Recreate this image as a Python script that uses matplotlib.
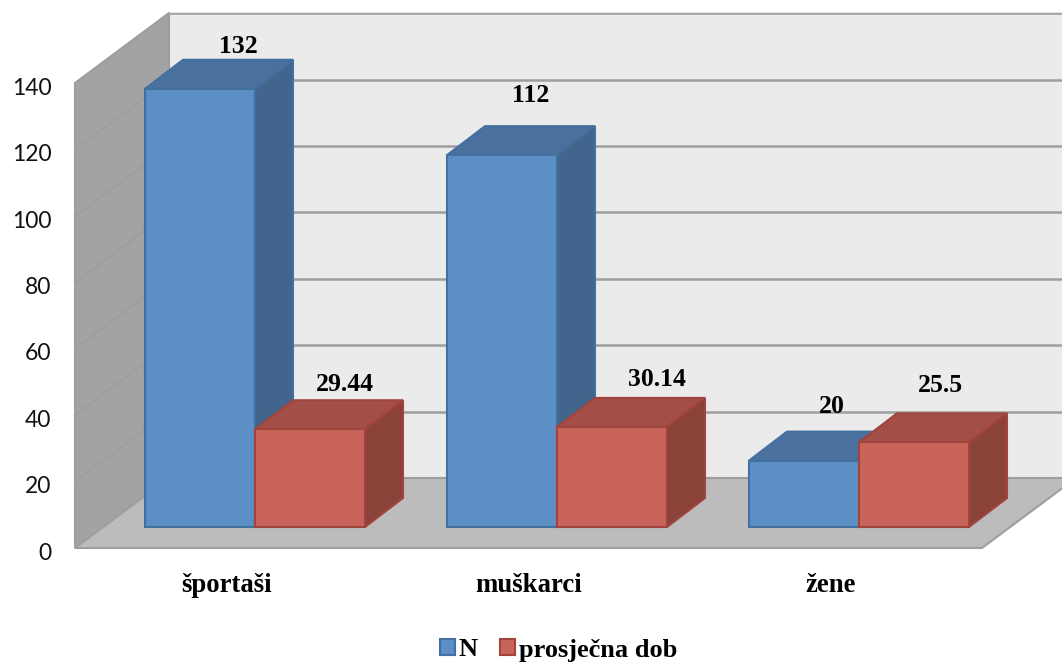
import matplotlib
matplotlib.use('Agg')
import matplotlib.pyplot as plt
from matplotlib.patches import Polygon, Patch
from matplotlib.transforms import ScaledTranslation

categories = ['športaši', 'muškarci', 'žene']
n_values = [132, 112, 20]
age_values = [29.44, 30.14, 25.5]
n_labels = ['132', '112', '20']
age_labels = ['29.44', '30.14', '25.5']
y_ticks = [0, 20, 40, 60, 80, 100, 120, 140]

W, H = 1062, 663
PX_PER_UNIT = 3.32
SERIF = 'Liberation Serif'

fig = plt.figure(figsize=(W / 100, H / 100), dpi=100)
# axes box runs from the front left floor corner up to the top of the back wall
ax = fig.add_axes([75 / W, (H - 548) / H, (W - 75) / W, 535 / H])
ax.set_xlim(75, W)
ax.set_ylim(0, 535 / PX_PER_UNIT)
for s in ax.spines.values():
    s.set_visible(False)


def u(px):
    return px / PX_PER_UNIT


def poly(pts, fc, ec=None, lw=1.5, z=1):
    ax.add_patch(Polygon(pts, closed=True, facecolor=fc, edgecolor=ec or fc, linewidth=lw,
                         clip_on=False, zorder=z, joinstyle='miter'))


# walls and floor
WALL_DX, WALL_DY = 94, u(70)
FLOOR_R = 982
TOP = 140
line_c = '#9e9e9e'
back_r = FLOOR_R + WALL_DX
poly([(75 + WALL_DX, WALL_DY), (back_r, WALL_DY), (back_r, TOP + WALL_DY), (75 + WALL_DX, TOP + WALL_DY)],
     '#ebebeb', '#ebebeb', z=1)
poly([(75, 0), (75 + WALL_DX, WALL_DY), (75 + WALL_DX, TOP + WALL_DY), (75, TOP)], '#a3a3a3', line_c, z=2)
poly([(75, 0), (FLOOR_R, 0), (back_r, WALL_DY), (75 + WALL_DX, WALL_DY)], '#bcbcbc', line_c, z=2)
for v in y_ticks[1:]:
    ax.plot([75, 75 + WALL_DX], [v, v + WALL_DY], color=line_c, lw=1.5, zorder=3, clip_on=False)
    ax.plot([75 + WALL_DX, back_r], [v + WALL_DY, v + WALL_DY], color=line_c, lw=1.8, zorder=3)


def bar3d(x0, x1, val, front, top, side, edge, z):
    base = u(21)
    dx, dy = 38, u(29)
    y1 = base + val
    poly([(x0, y1), (x0 + dx, y1 + dy), (x1 + dx, y1 + dy), (x1, y1)], top, edge, z=z)
    poly([(x1, base), (x1 + dx, base + dy), (x1 + dx, y1 + dy), (x1, y1)], side, edge, z=z)
    poly([(x0, base), (x1, base), (x1, y1), (x0, y1)], front, edge, z=z + 0.1)


BAR_W = 110
GROUP_STEP = 302
FIRST_X = 145
blue = ('#5b8fc5', '#4a719e', '#41658d', '#44709f')
red = ('#c9645a', '#a34f47', '#8b4239', '#a2443e')

for i in range(len(categories)):
    x0 = FIRST_X + i * GROUP_STEP
    bar3d(x0, x0 + BAR_W, n_values[i], *blue, z=4 + i)
    bar3d(x0 + BAR_W, x0 + 2 * BAR_W, age_values[i], *red, z=4.5 + i)

# data labels were moved by hand in the original, so they sit at their own offsets
n_offs = [(93, 58), (84, 75.5), (83, 70)]
age_offs = [(-20, 45), (-10.5, 47), (-29, 57)]
for i in range(len(categories)):
    x0 = FIRST_X + i * GROUP_STEP
    ax.text(x0 + n_offs[i][0], n_values[i] + u(21) + u(n_offs[i][1] - 16), n_labels[i], ha='center', va='center',
            family=SERIF, weight='bold', fontsize=18.5, color='black', zorder=20)
    ax.text(x0 + 2 * BAR_W + age_offs[i][0], age_values[i] + u(21) + u(age_offs[i][1]), age_labels[i], ha='center',
            va='center', family=SERIF, weight='bold', fontsize=18.5, color='black', zorder=20)

ax.set_yticks(y_ticks)
ax.set_yticklabels([str(v) for v in y_ticks], family='Lato', fontsize=16.5, color='#111111')
ax.set_xticks([FIRST_X + BAR_W - 28 + i * GROUP_STEP for i in range(3)])
ax.set_xticklabels(categories, family=SERIF, weight='bold', fontsize=19.3)
ax.tick_params(axis='y', length=0, pad=17)
ax.tick_params(axis='x', length=0, pad=18)
# the value labels sit a little below their grid height in the original
shift = ScaledTranslation(0, -3 / 100, fig.dpi_scale_trans)
for lbl in ax.get_yticklabels():
    lbl.set_transform(lbl.get_transform() + shift)

handles = [Patch(facecolor=blue[0], edgecolor=blue[3], lw=1.5),
           Patch(facecolor=red[0], edgecolor=red[3], lw=1.5)]
fig.legend(handles, ['N', 'prosječna dob'], loc='center', bbox_to_anchor=(558.5 / W, (H - 650) / H), ncol=2,
           frameon=False, prop={'family': SERIF, 'weight': 'bold', 'size': 19},
           handlelength=0.56, handleheight=0.56, handletextpad=0.15, columnspacing=0.85)

fig.savefig('out.png', dpi=100, facecolor='white')
